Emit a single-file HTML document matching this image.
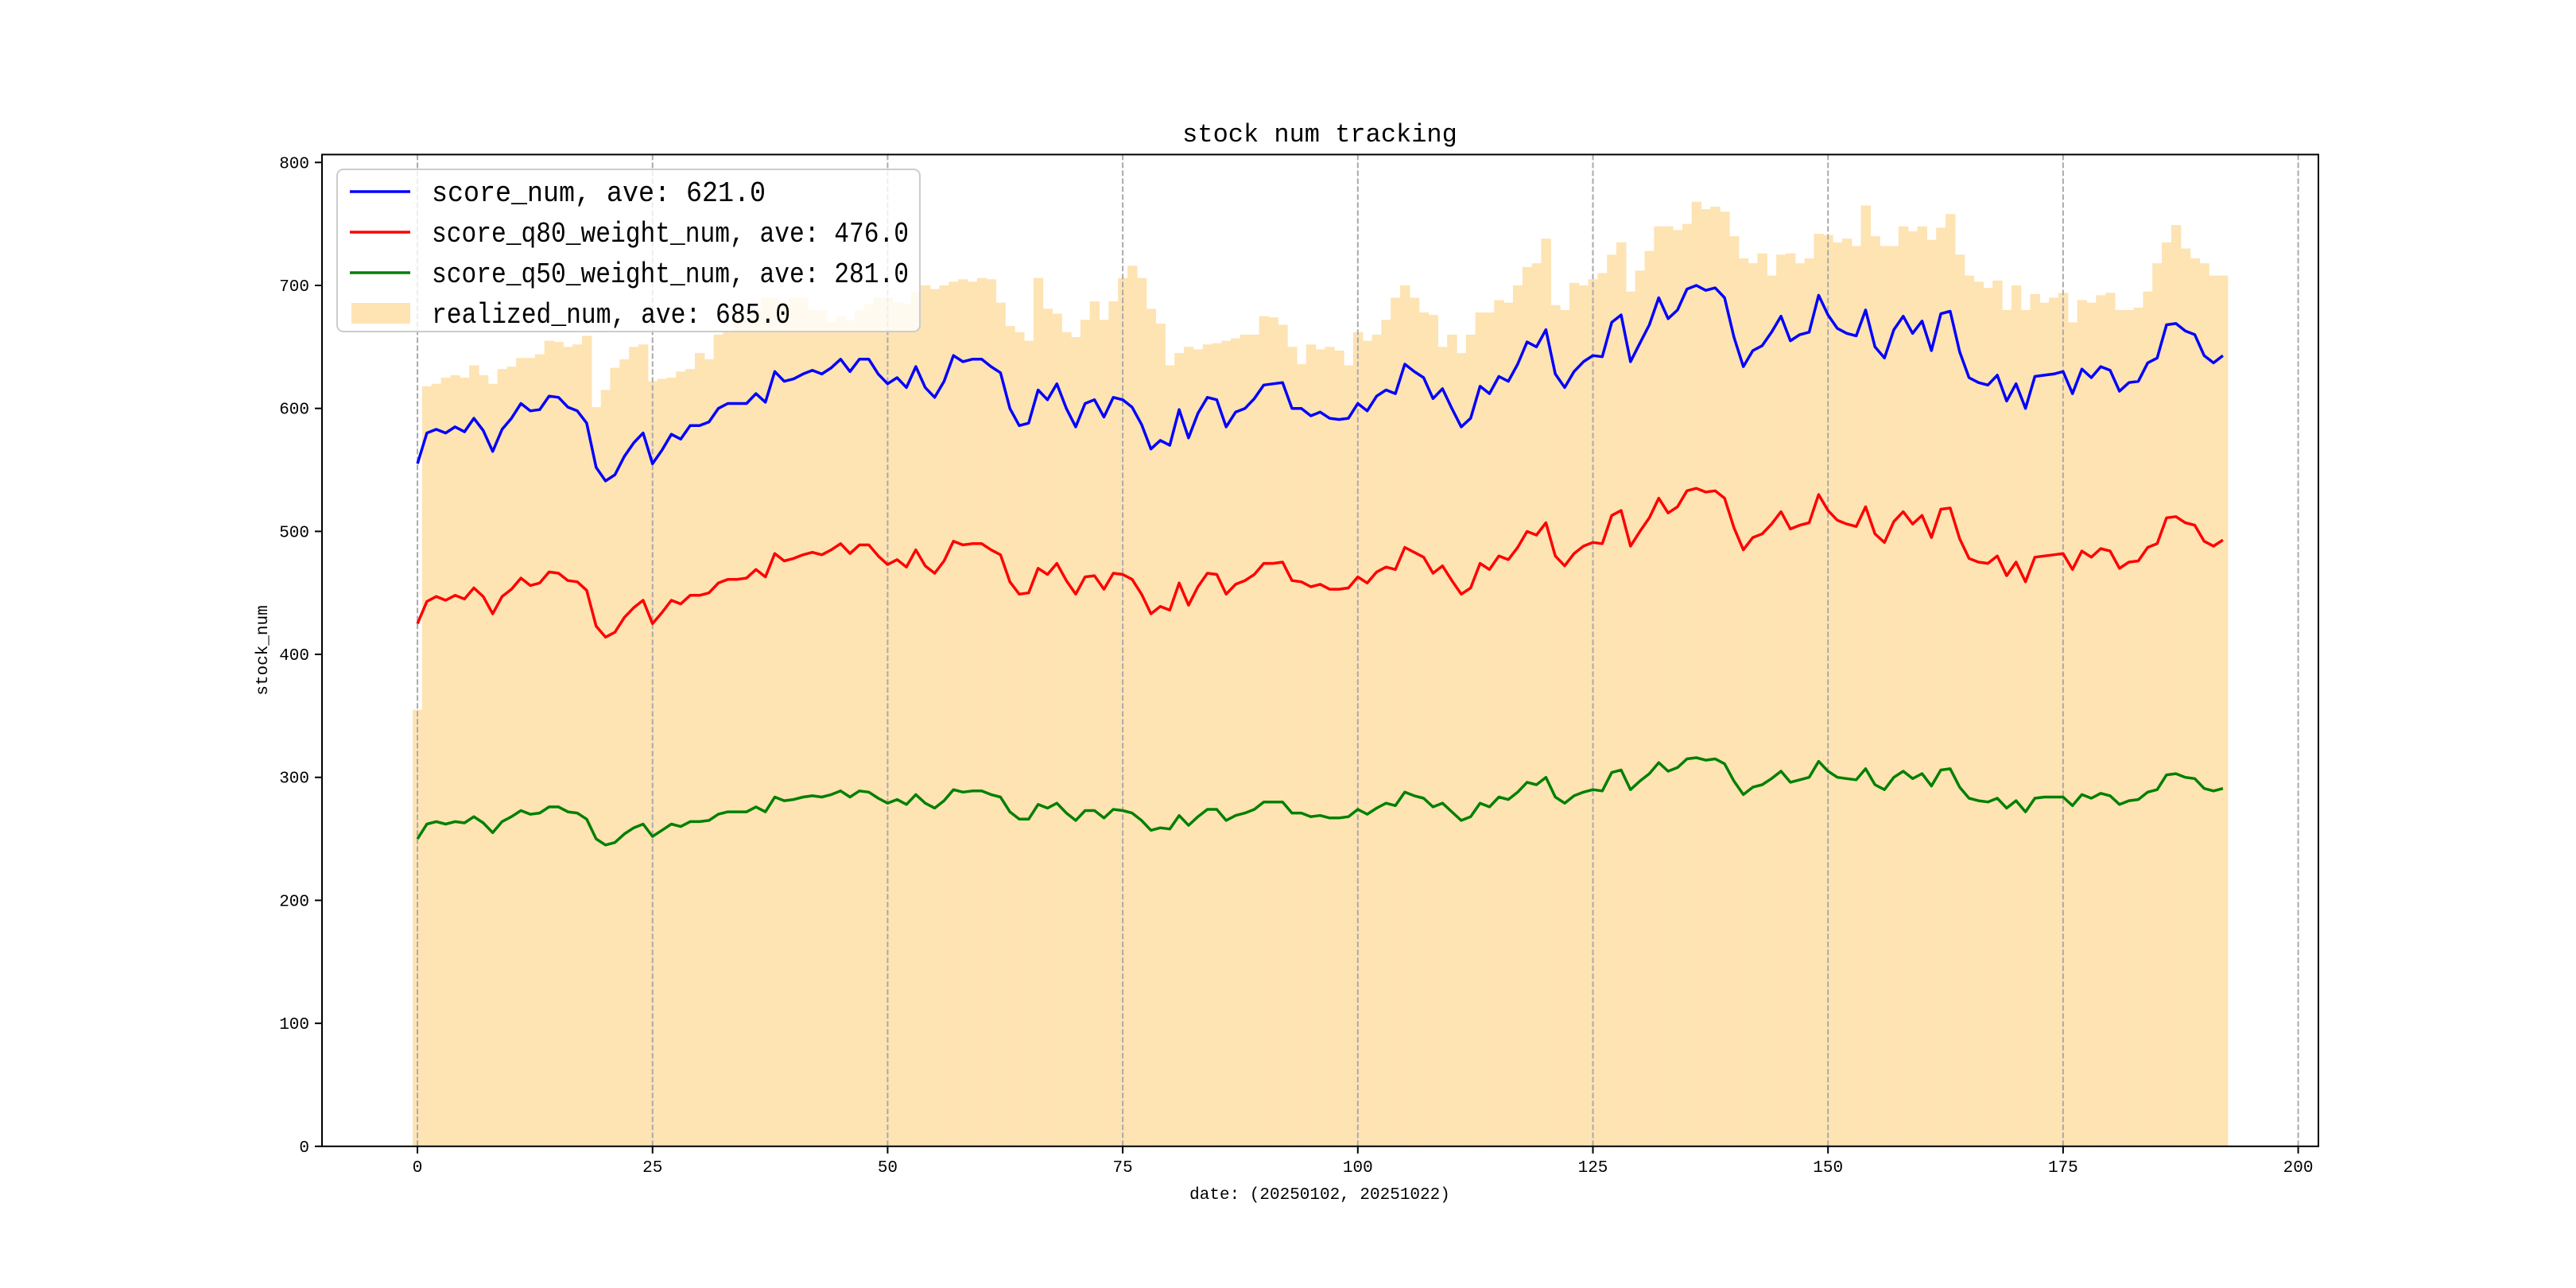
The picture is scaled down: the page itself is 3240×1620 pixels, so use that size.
<!DOCTYPE html>
<html><head><meta charset="utf-8"><style>
html,body{margin:0;padding:0;background:#fff}
svg{display:block}
text{font-family:"Liberation Mono","WenQuanYi Zen Hei",monospace;fill:#000}
</style></head><body>
<svg id="chart" width="3240" height="1620" viewBox="0 0 3240 1620" xmlns="http://www.w3.org/2000/svg">
<rect width="3240" height="1620" fill="#fff"/>
<g id="bars"></g>
<g id="grid"></g>
<g id="lines"></g>
<rect x="405" y="194.4" width="2511" height="1247.4" fill="none" stroke="#000" stroke-width="2"/>
<g id="ticks"></g>
<text x="1660" y="178" font-size="32" text-anchor="middle">stock num tracking</text>
<text x="1660" y="1508" font-size="21" text-anchor="middle">date: (20250102, 20251022)</text>
<text x="336" y="818" font-size="21" text-anchor="middle" transform="rotate(-90 336 818)">stock_num</text>
<g>
<rect x="424" y="213" width="733" height="204" rx="8" fill="#fff" fill-opacity="0.8" stroke="#ccc" stroke-width="2"/>
<line x1="440" y1="241" x2="516" y2="241" stroke="#0000ff" stroke-width="3.5"/>
<text x="543" y="253" font-size="36" textLength="420" lengthAdjust="spacingAndGlyphs">score_num, ave: 621.0</text>
<line x1="440" y1="292" x2="516" y2="292" stroke="#ff0000" stroke-width="3.5"/>
<text x="543" y="304" font-size="36" textLength="600" lengthAdjust="spacingAndGlyphs">score_q80_weight_num, ave: 476.0</text>
<line x1="440" y1="343" x2="516" y2="343" stroke="#008000" stroke-width="3.5"/>
<text x="543" y="355" font-size="36" textLength="600" lengthAdjust="spacingAndGlyphs">score_q50_weight_num, ave: 281.0</text>
<rect x="442" y="381" width="74" height="26" fill="#fee3b3"/>
<text x="543" y="406" font-size="36" textLength="451" lengthAdjust="spacingAndGlyphs">realized_num, ave: 685.0</text>
</g>
</svg>
<script>
const scoreNum=[555,580,583,580,585,581,592,582,565,583,592,604,598,599,610,609,601,598,588,552,541,546,561,572,580,555,566,579,575,586,586,589,600,604,604,604,612,605,630,622,624,628,631,628,633,640,630,640,640,628,620,625,617,634,617,609,622,643,638,640,640,634,629,600,586,588,615,607,620,600,585,604,607,593,609,607,601,587,567,574,570,599,576,596,609,607,585,597,600,608,619,620,621,600,600,594,597,592,591,592,604,598,610,615,612,636,630,625,608,616,600,585,592,618,612,626,622,636,654,650,664,628,617,630,638,643,642,670,676,638,653,668,690,673,680,697,700,696,698,690,658,634,647,651,662,675,655,660,662,692,676,665,661,659,680,650,641,664,675,661,671,647,677,679,646,625,621,619,627,606,620,600,626,627,628,630,612,632,625,634,631,614,621,622,637,641,668,669,663,660,643,637,643];
const q80Num=[425,443,447,444,448,445,454,447,433,447,453,462,456,458,467,466,460,459,452,423,414,418,430,438,444,425,434,444,441,448,448,450,458,461,461,462,469,463,482,476,478,481,483,481,485,490,482,489,489,480,473,477,471,485,472,466,476,492,489,490,490,485,481,459,449,450,470,465,474,460,449,463,464,453,466,465,461,449,433,439,436,458,440,455,466,465,449,457,460,465,474,474,475,460,459,455,457,453,453,454,463,458,467,471,469,487,483,479,466,472,460,449,454,474,469,480,477,487,500,497,507,480,472,482,488,491,490,513,517,488,500,511,527,515,520,533,535,532,533,527,503,485,495,498,506,516,502,505,507,530,517,509,506,504,520,498,491,508,516,506,513,495,518,519,494,478,475,474,480,464,475,459,479,480,481,482,469,484,479,486,484,470,475,476,487,490,511,512,507,505,492,488,493];
const q50Num=[250,262,264,262,264,263,268,263,255,264,268,273,270,271,276,276,272,271,266,250,245,247,254,259,262,252,257,262,260,264,264,265,270,272,272,272,276,272,284,281,282,284,285,284,286,289,284,289,288,283,279,282,278,286,279,275,281,290,288,289,289,286,284,272,266,266,278,275,279,271,265,273,273,267,274,273,271,265,257,259,258,269,261,268,274,274,265,269,271,274,280,280,280,271,271,268,269,267,267,268,274,270,275,279,277,288,285,283,276,279,272,265,268,279,276,284,282,288,296,294,300,284,279,285,288,290,289,304,306,290,297,303,312,305,308,315,316,314,315,311,297,286,292,294,299,305,296,298,300,313,305,300,299,298,307,294,290,300,305,299,303,293,306,307,292,283,281,280,283,275,281,272,283,284,284,284,277,286,283,287,285,278,281,282,288,290,302,303,300,299,291,289,291];
const realizedNum=[355,618,620,625,627,625,635,627,620,632,634,641,641,644,655,654,650,652,659,601,615,633,640,650,652,622,624,625,630,632,645,640,660,663,672,675,680,690,690,685,690,690,680,680,670,675,672,680,685,690,690,686,685,695,700,697,700,703,705,703,706,705,686,667,662,655,706,681,677,662,658,672,687,672,687,706,716,706,681,669,635,645,650,648,652,653,655,657,660,660,675,674,668,650,636,652,648,650,647,635,662,655,660,672,690,700,690,678,676,650,660,645,660,678,678,688,686,700,715,718,738,684,680,702,700,705,710,725,735,695,712,728,748,748,745,750,768,762,764,760,740,722,718,726,708,725,726,718,722,742,741,735,738,732,765,740,732,732,748,744,748,737,747,758,725,708,703,698,704,680,700,680,693,686,690,694,670,688,686,692,694,680,680,682,695,718,735,749,730,722,718,708,708];
const xTicks=[0,25,50,75,100,125,150,175,200];
const yTicks=[0,100,200,300,400,500,600,700,800];

const NS='http://www.w3.org/2000/svg';
const AX={l:405,r:2916,t:194.4,b:1441.8};
const n=realizedNum.length;
const xMin=-0.5-0.05*n, xMax=n-0.5+0.05*n;
const yMax=Math.max(...realizedNum)*1.05;
const xs=v=>AX.l+(v-xMin)/(xMax-xMin)*(AX.r-AX.l);
const ys=v=>AX.b-v/yMax*(AX.b-AX.t);
function mk(tag,attrs,parent){const e=document.createElementNS(NS,tag);for(const k in attrs)e.setAttribute(k,attrs[k]);parent.appendChild(e);return e;}

const gb=document.getElementById('bars');
realizedNum.forEach((v,i)=>{
  const r=mk('rect',{x:xs(i-0.5),y:ys(v),width:xs(i+0.5)-xs(i-0.5)+0.6,height:ys(0)-ys(v),fill:'#fee3b3'},gb);
  
  
});
const gg=document.getElementById('grid');
xTicks.forEach(t=>{
  const l=mk('line',{x1:xs(t),x2:xs(t),y1:AX.t,y2:AX.b,stroke:'#aaa','stroke-width':2,'stroke-dasharray':'7,3'},gg);
  
  
});
const gl=document.getElementById('lines');
[[scoreNum,'#0000ff','score-num-line'],[q80Num,'#ff0000','q80-line'],[q50Num,'#008000','q50-line']].forEach(([arr,c,name])=>{
  const p=mk('polyline',{points:arr.map((v,i)=>xs(i).toFixed(1)+','+ys(v).toFixed(1)).join(' '),fill:'none',stroke:c,'stroke-width':3.5,'stroke-linejoin':'round'},gl);
  
  
});
const gt=document.getElementById('ticks');
xTicks.forEach(t=>{
  const l=mk('line',{x1:xs(t),x2:xs(t),y1:AX.b,y2:AX.b+9,stroke:'#000','stroke-width':2},gt);
  
  
  const tx=mk('text',{x:xs(t),y:AX.b+32,'font-size':21,'text-anchor':'middle'},gt);
  tx.textContent=t;
  
  
});
yTicks.forEach(t=>{
  const l=mk('line',{x1:AX.l-9,x2:AX.l,y1:ys(t),y2:ys(t),stroke:'#000','stroke-width':2},gt);
  
  
  const tx=mk('text',{x:AX.l-16,y:ys(t)+7,'font-size':21,'text-anchor':'end'},gt);
  tx.textContent=t;
  
  
});
</script>
</body></html>
